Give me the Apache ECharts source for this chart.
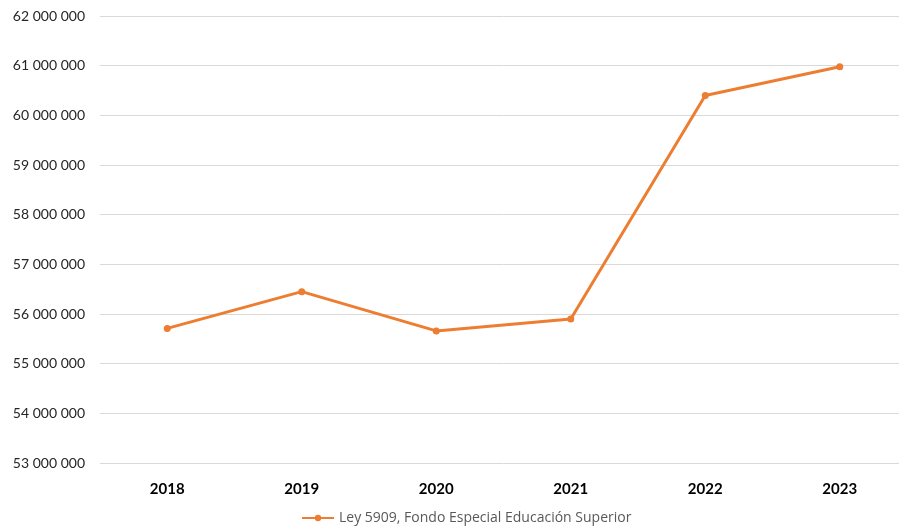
<!DOCTYPE html>
<html>
<head>
<meta charset="utf-8">
<script src="https://cdn.jsdelivr.net/npm/echarts@6/dist/echarts.min.js"></script>
<style>
  html, body { margin: 0; padding: 0; background: #fff; overflow: hidden; }
  /* el área de trazado sobresale un poco por la derecha, como en el original */
  #chart { width: 907px; height: 531px; }
</style>
</head>
<body>
<div id="chart"></div>
<script>
// datos
var years = ['2018', '2019', '2020', '2021', '2022', '2023'];
var fondo = [55710000, 56450000, 55660000, 55900000, 60400000, 60980000];
var serieName = 'Ley 5909, Fondo Especial Educación Superior';

var chart = echarts.init(document.getElementById('chart'));

function fmt(v) {
    // separador de miles con espacio
    return String(v).replace(/\B(?=(\d{3})+(?!\d))/g, ' ');
}

var option = {
    animation: false,
    textStyle: { fontFamily: 'Lato, "Open Sans", sans-serif' },
    grid: { left: 100, top: 16, right: 0, bottom: 68 },
    legend: {
        bottom: 1,
        left: 296,
        itemWidth: 32,
        itemHeight: 8,
        textStyle: { color: '#595959', fontSize: 14, fontFamily: '"Open Sans", sans-serif' },
        data: [serieName]
    },
    xAxis: {
        type: 'category',
        data: years,
        axisLine: { show: false },
        axisTick: { show: false },
        axisLabel: { color: '#000', fontWeight: 'bold', fontSize: 15, margin: 19 }
    },
    yAxis: {
        type: 'value',
        min: 53000000,
        max: 62000000,
        interval: 1000000,
        axisLine: { show: false },
        axisTick: { show: false },
        splitLine: { lineStyle: { color: '#d9d9d9', width: 1 } },
        axisLabel: {
            color: '#262626',
            fontSize: 14,
            margin: 15,
            formatter: fmt
        }
    },
    series: [{
        name: serieName,
        type: 'line',
        data: fondo,
        symbol: 'circle',
        symbolSize: 7,
        lineStyle: { color: '#ED7D31', width: 3 },
        itemStyle: { color: '#ED7D31' }
    }]
};

chart.setOption(option);
</script>
</body>
</html>
